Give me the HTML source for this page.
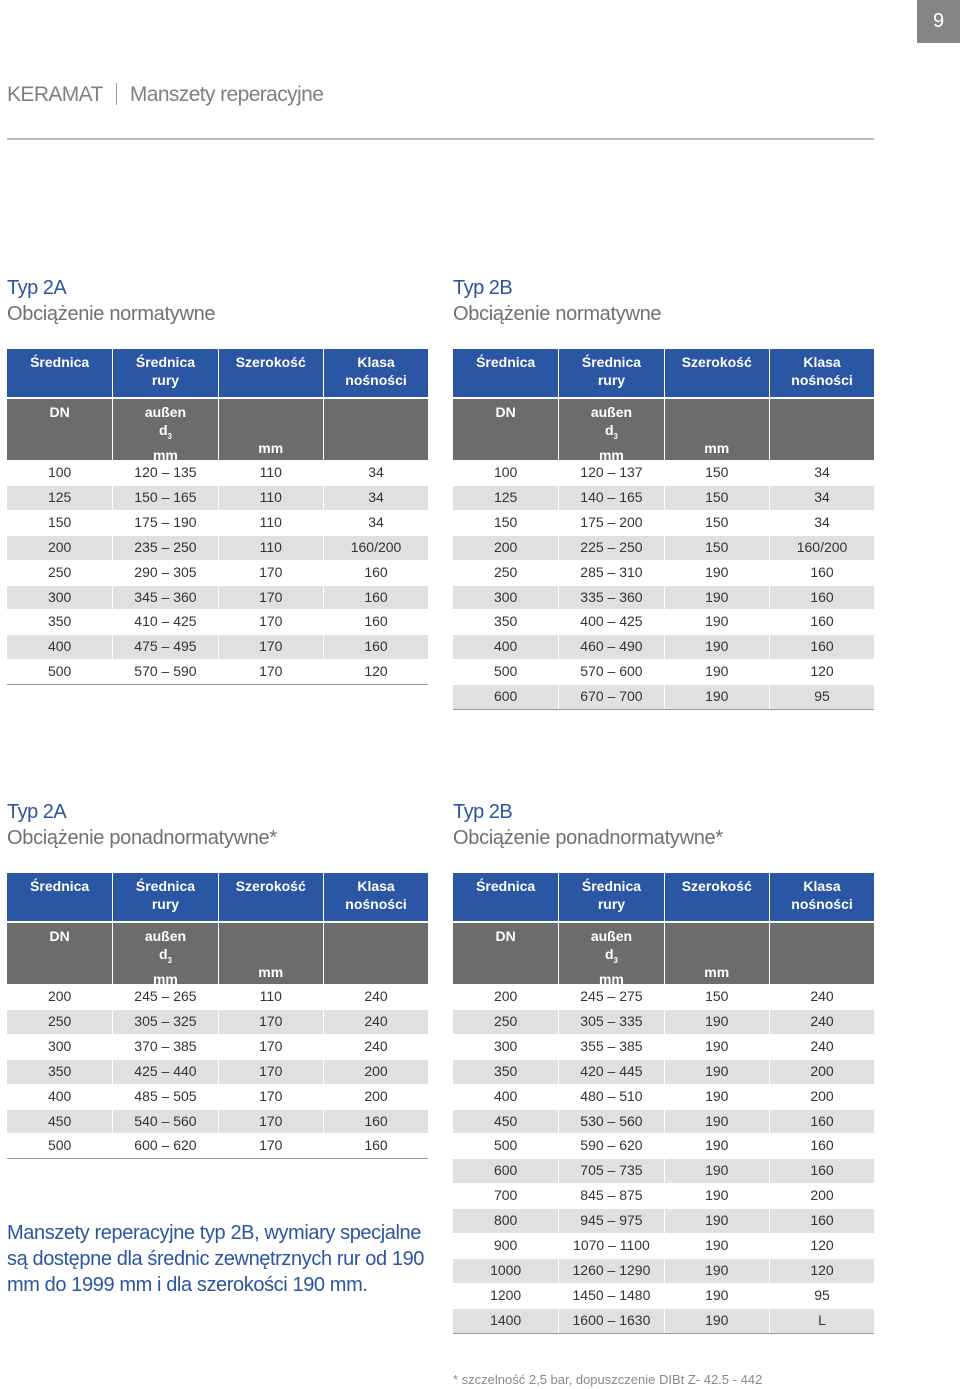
<!DOCTYPE html>
<html><head><meta charset="utf-8"><style>
body{margin:0;width:960px;height:1389px;position:relative;background:#fff;font-family:"Liberation Sans",sans-serif;overflow:hidden}
.a{position:absolute}
.t1{color:#2a55a0;font-size:20px;letter-spacing:-0.5px}
.t2{color:#707070;font-size:20px;letter-spacing:-0.3px}
.c{position:absolute;text-align:center;font-size:14px;color:#333;box-sizing:border-box}
.hb{background:#2a56a3;color:#fff;font-weight:bold;line-height:18px;padding-top:4px}
.hg{background:#6c6c6c;color:#fff;font-weight:bold;line-height:18px;padding-top:4px}
</style></head><body>
<div class="a" style="left:917px;top:0;width:43px;height:43px;background:#858585;color:#fff;font-size:20px;text-align:center;line-height:43px">9</div>
<div class="a" style="left:7px;top:83px;font-size:21px;color:#808080;letter-spacing:-0.6px">KERAMAT <span style="display:inline-block;width:1px;height:22px;background:#999;vertical-align:-4px;margin:0 8px"></span> Manszety reperacyjne</div>
<div class="a" style="left:7px;top:138px;width:867px;height:2px;background:#bbb"></div>

<div class="a t1" style="left:7px;top:277px">Typ 2A</div>
<div class="a t2" style="left:7px;top:303px">Obciążenie normatywne</div>
<div class="a t1" style="left:453px;top:277px">Typ 2B</div>
<div class="a t2" style="left:453px;top:303px">Obciążenie normatywne</div>
<div class="a t1" style="left:7px;top:801px">Typ 2A</div>
<div class="a t2" style="left:7px;top:827px">Obciążenie ponadnormatywne*</div>
<div class="a t1" style="left:453px;top:801px">Typ 2B</div>
<div class="a t2" style="left:453px;top:827px">Obciążenie ponadnormatywne*</div>

<div class="a" style="left:7px;top:1220px;width:420px;color:#2a55a0;font-size:20px;line-height:26px;letter-spacing:-0.4px">Manszety reperacyjne typ 2B, wymiary specjalne są dostępne dla średnic zewnętrznych rur od 190 mm do 1999 mm i dla szerokości 190 mm.</div>
<div class="a" style="left:453px;top:1372px;color:#888;font-size:13px">* szczelność 2,5 bar, dopuszczenie DIBt Z- 42.5 - 442</div>

<script>
const t1DN=["100","125","150","200","250","300","350","400","500"];
const t1D=["120 – 135","150 – 165","175 – 190","235 – 250","290 – 305","345 – 360","410 – 425","475 – 495","570 – 590"];
const t1W=["110","110","110","110","170","170","170","170","170"];
const t1K=["34","34","34","160/200","160","160","160","160","120"];
const t2DN=["100","125","150","200","250","300","350","400","500","600"];
const t2D=["120 – 137","140 – 165","175 – 200","225 – 250","285 – 310","335 – 360","400 – 425","460 – 490","570 – 600","670 – 700"];
const t2W=["150","150","150","150","190","190","190","190","190","190"];
const t2K=["34","34","34","160/200","160","160","160","160","120","95"];
const t3DN=["200","250","300","350","400","450","500"];
const t3D=["245 – 265","305 – 325","370 – 385","425 – 440","485 – 505","540 – 560","600 – 620"];
const t3W=["110","170","170","170","170","170","170"];
const t3K=["240","240","240","200","200","160","160"];
const t4DN=["200","250","300","350","400","450","500","600","700","800","900","1000","1200","1400"];
const t4D=["245 – 275","305 – 335","355 – 385","420 – 445","480 – 510","530 – 560","590 – 620","705 – 735","845 – 875","945 – 975","1070 – 1100","1260 – 1290","1450 – 1480","1600 – 1630"];
const t4W=["150","190","190","190","190","190","190","190","190","190","190","190","190","190"];
const t4K=["240","240","240","200","200","160","160","160","200","160","120","120","95","L"];
const hB=["Średnica","Średnica<br>rury","Szerokość","Klasa<br>nośności"];
const hG=["DN","außen<br>d<sub style='font-size:8px'>3</sub><br>mm","<br><br>mm",""];
function table(name,x,y,cols){
  const cw=105.3,rh=24.9,n=cols[0].length;
  for(let j=0;j<4;j++){
    let e=document.createElement('div');e.className='c hb';
    
    
    e.style.cssText+=`left:${x+j*cw+(j?1:0)}px;top:${y}px;width:${cw-(j?1:0)}px;height:48px`;
    e.innerHTML=hB[j];document.body.appendChild(e);
    let g=document.createElement('div');g.className='c hg';
    
    
    g.style.cssText+=`left:${x+j*cw+(j?1:0)}px;top:${y+50}px;width:${cw-(j?1:0)}px;height:61px`;
    g.innerHTML=hG[j];document.body.appendChild(g);
  }
  for(let i=0;i<n;i++){
    for(let j=0;j<4;j++){
      let e=document.createElement('div');e.className='c';
      
      
      e.style.cssText+=`left:${x+j*cw+(j?1:0)}px;top:${y+112+i*rh}px;width:${cw-(j?1:0)}px;height:${rh-1}px;line-height:${rh-1}px;background:${i%2?'#e0e0e0':'#fff'}`;
      e.textContent=cols[j][i];document.body.appendChild(e);
    }
  }
  let l=document.createElement('div');l.className='a';
  
  
  l.style.cssText=`left:${x}px;top:${y+112+n*rh-1}px;width:421px;height:1px;background:#999`;
  document.body.appendChild(l);
}
table('table-2a-norm',7,349,[t1DN,t1D,t1W,t1K]);
table('table-2b-norm',453,349,[t2DN,t2D,t2W,t2K]);
table('table-2a-over',7,873,[t3DN,t3D,t3W,t3K]);
table('table-2b-over',453,873,[t4DN,t4D,t4W,t4K]);
</script>
</body></html>
